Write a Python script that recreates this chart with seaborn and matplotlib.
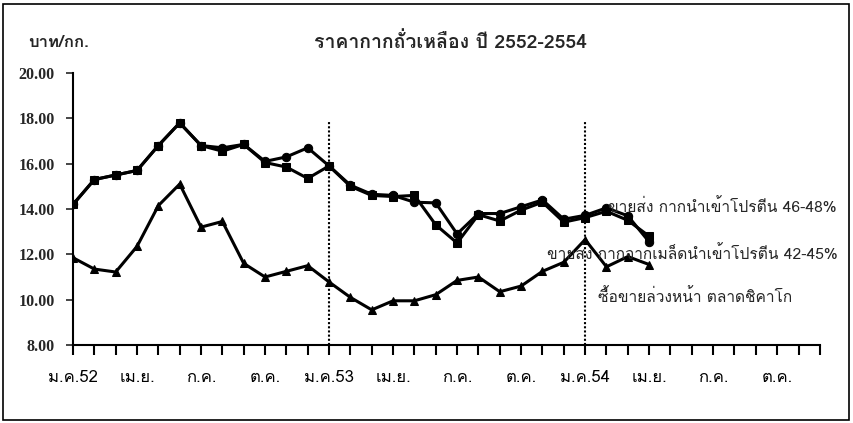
import matplotlib
matplotlib.use("Agg")
import matplotlib.pyplot as plt
import seaborn as sns
import pandas as pd
from matplotlib import font_manager
from matplotlib.ft2font import FT2Font
from matplotlib.patches import Rectangle

# ── Data (บาท/กก., ม.ค.52 – เม.ย.54) ──────────────────────────
months = list(range(28))
wholesale_46_48 = [14.2, 15.3, 15.5, 15.7, 16.8, 17.8, 16.8, 16.7, 16.85, 16.1,
                   16.3, 16.7, 15.9, 15.05, 14.65, 14.6, 14.3, 14.27, 12.9, 13.8,
                   13.8, 14.1, 14.4, 13.55, 13.72, 14.05, 13.7, 12.55]
wholesale_42_45 = [14.2, 15.3, 15.5, 15.7, 16.8, 17.8, 16.8, 16.55, 16.85, 16.05,
                   15.85, 15.35, 15.9, 15.0, 14.6, 14.55, 14.6, 13.3, 12.5, 13.75,
                   13.47, 13.95, 14.3, 13.42, 13.62, 13.9, 13.5, 12.8]
chicago_futures = [11.85, 11.35, 11.22, 12.35, 14.15, 15.1, 13.2, 13.45, 11.6, 11.0,
                   11.25, 11.5, 10.78, 10.1, 9.55, 9.95, 9.95, 10.22, 10.85, 11.0,
                   10.35, 10.6, 11.25, 11.65, 12.65, 11.45, 11.9, 11.55]
series_names = ["ขายส่ง กากนำเข้าโปรตีน 46-48%",
                "ขายส่ง กากจากเมล็ดนำเข้าโปรตีน 42-45%",
                "ซื้อขายล่วงหน้า ตลาดชิคาโก"]
tick_labels = ["ม.ค.52", "เม.ย.", "ก.ค.", "ต.ค.", "ม.ค.53", "เม.ย.", "ก.ค.", "ต.ค.",
               "ม.ค.54", "เม.ย.", "ก.ค.", "ต.ค."]
year_breaks = [12, 24]


def find_thai_font():
    for f in font_manager.fontManager.ttflist:
        try:
            if 0x0E01 in FT2Font(f.fname).get_charmap():
                return f.name
        except Exception:
            pass
    return None


sns.set_style("white")
thai = find_thai_font()
fam = ([thai] if thai else []) + ["Liberation Serif", "DejaVu Sans"]
plt.rcParams["font.family"] = fam

fig = plt.figure(figsize=(8.54, 4.23), dpi=100)
ax = fig.add_axes([0.0855, 0.1844, 0.8745, 0.643])

df = pd.DataFrame({"month": months, "a": wholesale_46_48,
                   "b": wholesale_42_45, "c": chicago_futures})
for col, mk in [("a", "o"), ("b", "s"), ("c", "^")]:
    sns.lineplot(data=df, x="month", y=col, ax=ax, color="black", lw=2.2,
                 marker=mk, markersize=6, markeredgecolor="black")

ax.vlines(year_breaks, 8, 17.9, colors="black", linestyles=(0, (1, 1)), lw=1.5)

ax.set_xlim(0, 35)
ax.set_ylim(8, 20)
ax.set_yticks(range(8, 21, 2))
ax.set_yticklabels([f"{v:.2f}" for v in range(8, 21, 2)])
for lab in ax.get_yticklabels():
    lab.set_fontfamily("Liberation Serif")
    lab.set_fontweight("bold")
    lab.set_fontsize(11.5)
ax.set_xticks(range(36))
labels = [""] * 36
for i, t in enumerate(tick_labels):
    labels[i * 3] = t
ax.set_xticklabels(labels, fontsize=12)
ax.tick_params(axis="x", direction="out", length=7, width=1.5, pad=11,
               bottom=True, colors="black")
ax.tick_params(axis="y", direction="out", length=5, width=1.2, pad=8, left=True)
ax.set_xlabel("")
ax.set_ylabel("")
for s in ["top", "right"]:
    ax.spines[s].set_visible(False)
for s in ["left", "bottom"]:
    ax.spines[s].set_color("black")
    ax.spines[s].set_linewidth(1.5)

ax.text(25.05, 14.1, series_names[0], fontsize=11.2, va="center")
ax.text(22.2, 12.05, series_names[1], fontsize=11.2, va="center")
ax.text(24.6, 10.15, series_names[2], fontsize=11.2, va="center")

fig.text(0.033, 0.90, "บาท/กก.", fontsize=12, fontweight="bold", va="center")
fig.text(0.527, 0.90, "ราคากากถั่วเหลือง ปี 2552-2554", fontsize=14,
         fontweight="bold", va="center", ha="center")

fig.patches.append(Rectangle((0.004, 0.006), 0.99, 0.985, transform=fig.transFigure,
                             fill=False, edgecolor="black", lw=1.2))

fig.savefig("out.png", dpi=100)
